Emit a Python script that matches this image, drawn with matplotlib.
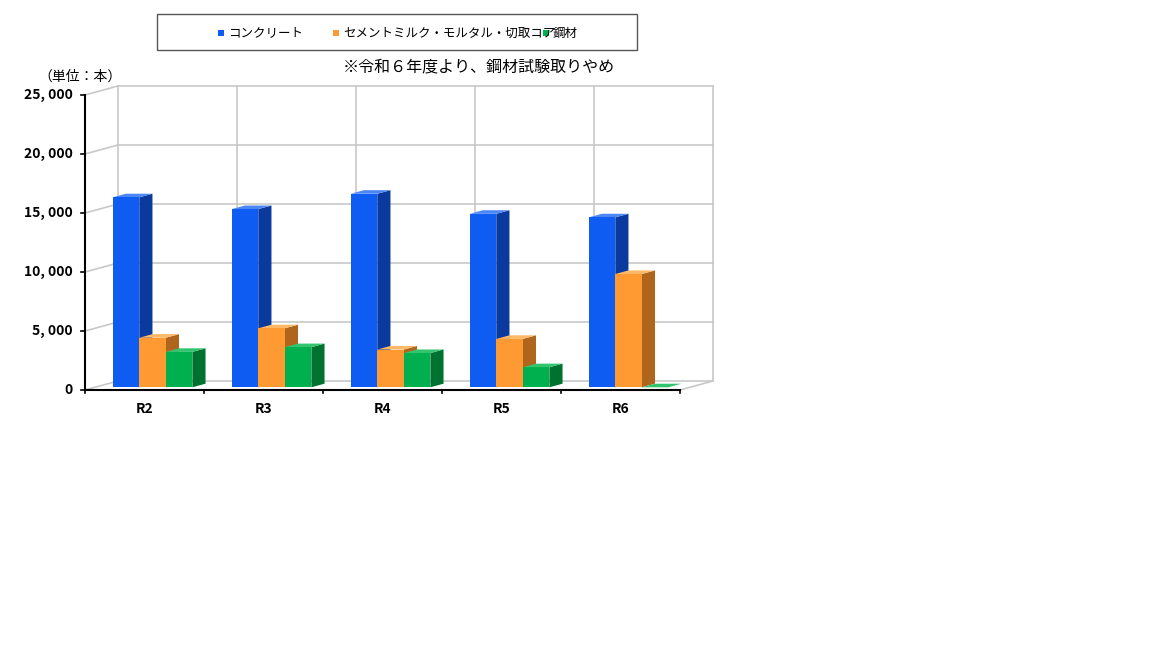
import matplotlib.pyplot as plt
from matplotlib.patches import Polygon, Rectangle

plt.rcParams['font.family'] = ['Noto Sans CJK JP', 'DejaVu Sans']

categories = ["R2", "R3", "R4", "R5", "R6"]
concrete = [16100, 15100, 16400, 14700, 14400]
cement = [4200, 5000, 3200, 4100, 9600]
steel = [3000, 3400, 2900, 1700, 0]
series_names = ["コンクリート", "セメントミルク・モルタル・切取コア", "鋼材"]
yticks = [0, 5000, 10000, 15000, 20000, 25000]

# face, side, top colours
COLORS = [
    ("#0F5CF2", "#0A3A9E", "#4D86F5"),
    ("#FF9A33", "#B0651C", "#FFB866"),
    ("#00B04F", "#00722F", "#33C46F"),
]
GRID = "#C8C8C8"

W, H = 1152, 648
fig = plt.figure(figsize=(W / 100, H / 100), dpi=100)
ax = fig.add_axes([85 / W, (H - 390) / H, (680 - 85) / W, (390 - 95) / H])
ax.set_xlim(0, 5)
ax.set_ylim(0, 25000)
ax.axis("off")

DX, DY = 0.277, 763  # full depth offset in data units
BW = 0.223
bar_depth = 0.4
bar_front = 0.3


def poly(pts, fc, ec="none", lw=0.0, z=2):
    ax.add_patch(Polygon(pts, closed=True, facecolor=fc, edgecolor=ec,
                         linewidth=lw, zorder=z, clip_on=False))


# back wall grid and frame
for v in yticks:
    ax.plot([DX, 5 + DX], [v + DY, v + DY], color=GRID, lw=1.2, zorder=1, clip_on=False)
    ax.plot([0, DX], [v, v + DY], color=GRID, lw=1.2, zorder=1, clip_on=False)
for k in range(6):
    ax.plot([k + DX, k + DX], [DY, 25000 + DY], color=GRID, lw=1.2, zorder=1, clip_on=False)
ax.plot([5, 5 + DX], [0, DY], color=GRID, lw=1.2, zorder=1, clip_on=False)

# bars
for i in range(len(categories)):
    for j, vals in enumerate([concrete, cement, steel]):
        v = vals[i]
        fc, sc, tc = COLORS[j]
        x0 = i + 0.15 + j * BW + bar_front * DX
        y0 = bar_front * DY
        dx, dy = bar_depth * DX, bar_depth * DY
        z = 3 + j
        poly([(x0 + BW, y0), (x0 + BW + dx, y0 + dy), (x0 + BW + dx, y0 + v + dy),
              (x0 + BW, y0 + v)], sc, z=z)
        poly([(x0, y0 + v), (x0 + dx, y0 + v + dy), (x0 + BW + dx, y0 + v + dy),
              (x0 + BW, y0 + v)], tc, z=z)
        if v > 0:
            poly([(x0, y0), (x0 + BW, y0), (x0 + BW, y0 + v), (x0, y0 + v)], fc, z=z)

# front axes
ax.plot([0, 0], [0, 25000], color="black", lw=1.5, zorder=10, clip_on=False)
ax.plot([0, 5], [0, 0], color="black", lw=1.5, zorder=10, clip_on=False)
for v in yticks:
    ax.plot([-0.03, 0], [v, v], color="black", lw=1.2, zorder=10, clip_on=False)
    ax.text(-0.1, v, f"{v:,}".replace(",", ", "), ha="right", va="center",
            fontsize=10, fontweight="bold", zorder=10)
for k in range(6):
    ax.plot([k, k], [0, -250], color="black", lw=1.2, zorder=10, clip_on=False)
for i, c in enumerate(categories):
    ax.text(i + 0.5, -1000, c, ha="center", va="top", fontsize=10, fontweight="bold")

# legend box
fig.patches.append(Rectangle((157 / W, 1 - 50 / H), 480 / W, 36 / H, transform=fig.transFigure,
                             facecolor="white", edgecolor="#555555", lw=1.0))
lx = [218, 333, 543]
for name, x, (fc, _, _) in zip(series_names, lx, COLORS):
    fig.patches.append(Rectangle((x / W, 1 - 36 / H), 6 / W, 6 / H, transform=fig.transFigure,
                                 facecolor=fc, edgecolor="none"))
    fig.text((x + 10) / W, 1 - 33 / H, name, fontsize=9, va="center", ha="left")

fig.text(38 / W, 1 - 77 / H, "（単位：本）", fontsize=10, va="center")
fig.text(343 / W, 1 - 67 / H, "※令和６年度より、鋼材試験取りやめ", fontsize=11.5, va="center")

fig.savefig("out.png", dpi=100, facecolor="white")
